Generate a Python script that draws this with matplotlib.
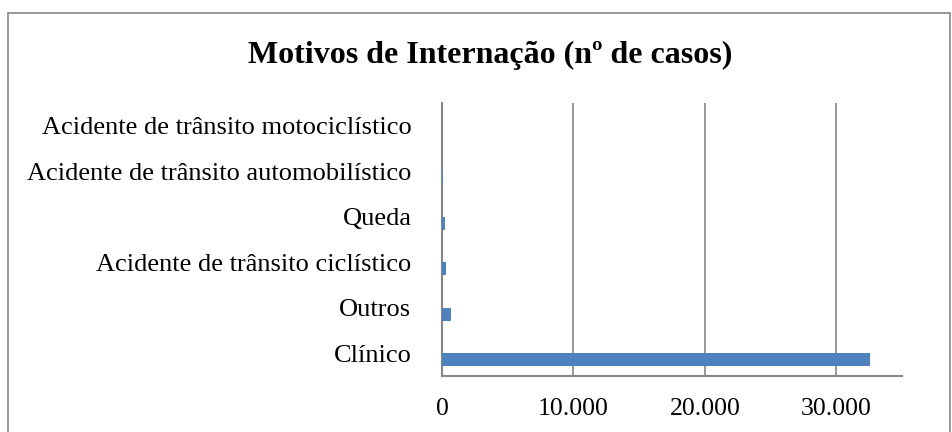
import matplotlib.pyplot as plt
import matplotlib.ticker as mticker
import numpy as np

plt.rcParams['font.family'] = ['Liberation Serif', 'DejaVu Serif']

# dados
categorias = ['Clínico', 'Outros', 'Acidente de trânsito ciclístico', 'Queda',
              'Acidente de trânsito automobilístico', 'Acidente de trânsito motociclístico']
casos = [32550, 650, 320, 200, 60, 15]
ticks_x = [0, 10000, 20000, 30000]

fig = plt.figure(figsize=(9.53, 4.32), dpi=100)
ax = fig.add_axes([442/953, 1 - 376/432, 460/953, 273/432])

cinza = '#868686'
pos = np.arange(len(categorias))
# barras deslocadas um pouco para baixo dentro da categoria (como no excel)
ax.barh(pos - 0.14, casos, height=0.29, color='#4f81bd', zorder=3)

ax.set_xlim(0, 35000)
ax.set_ylim(-0.5, len(categorias) - 0.5)
ax.set_yticks(pos)
ax.set_yticklabels(categorias, fontsize=19)
ax.set_xticks(ticks_x)
ax.xaxis.set_major_formatter(mticker.FuncFormatter(lambda v, p: f'{int(v):,}'.replace(',', '.')))
ax.tick_params(axis='x', labelsize=18.5, length=0, pad=16)
ax.tick_params(axis='y', length=0, pad=22)
ax.grid(axis='x', color=cinza, linewidth=1.2, zorder=0)

for s in ['top', 'right']:
    ax.spines[s].set_visible(False)
for s in ['left', 'bottom']:
    ax.spines[s].set_color(cinza)
    ax.spines[s].set_linewidth(1.5)

fig.text(490/953, 1 - 55/432, 'Motivos de Internação (nº de casos)', ha='center', va='center',
         fontsize=23, fontweight='bold')

# moldura do grafico
fig.patches.append(plt.Rectangle((8/953, -0.1), (950 - 8)/953, 1.1 - 13/432,
                                 transform=fig.transFigure, fill=False,
                                 edgecolor=cinza, linewidth=1.2))

fig.savefig('out.png', dpi=100)
